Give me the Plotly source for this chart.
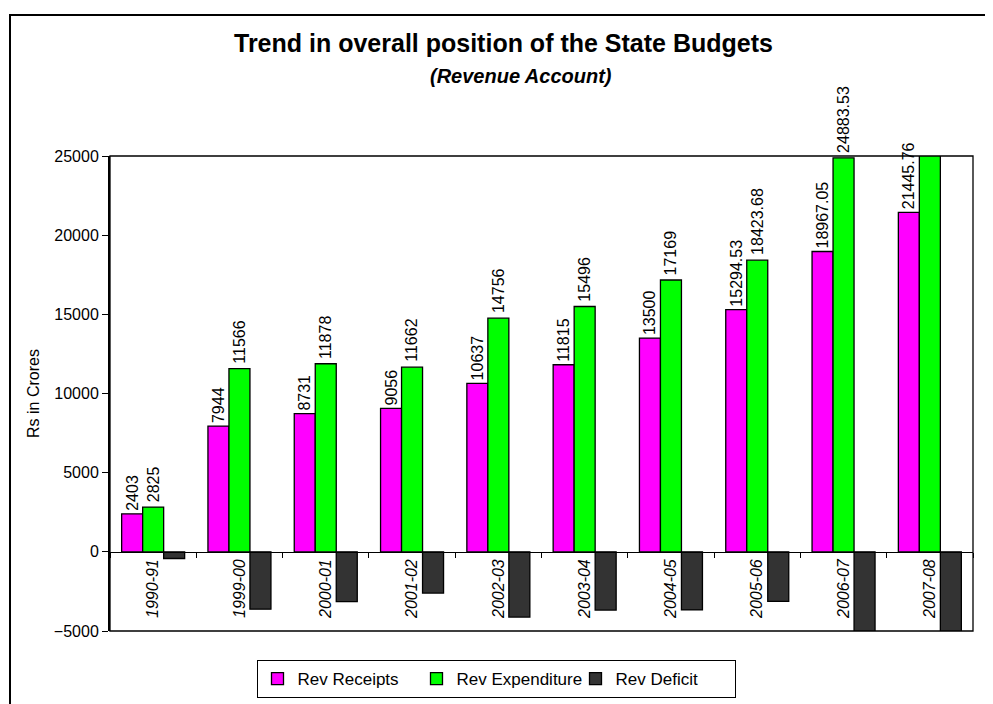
import plotly.graph_objects as go

years = ["1990-91", "1999-00", "2000-01", "2001-02", "2002-03",
         "2003-04", "2004-05", "2005-06", "2006-07", "2007-08"]
rev_receipts = [2403, 7944, 8731, 9056, 10637, 11815, 13500, 15294.53, 18967.05, 21445.76]
rev_expenditure = [2825, 11566, 11878, 11662, 14756, 15496, 17169, 18423.68, 24883.53, 26800]
rev_deficit = [-422, -3622, -3147, -2606, -4119, -3681, -3669, -3129.15, -5916.48, -5354.24]
y_ticks = [-5000, 0, 5000, 10000, 15000, 20000, 25000]
y_min, y_max = -5000, 25000


def fmt(v):
    return ("%.2f" % v).rstrip("0").rstrip(".")


FONT = "Liberation Sans, Arial, sans-serif"
NARROW = "Liberation Sans Narrow, Arial Narrow, Liberation Sans, sans-serif"

# page is offset by the browser's 8px body margin
OFF = 8
PL, PR, PT, PB = 110 - OFF, 973 - OFF, 156 - OFF, 631 - OFF  # plot area in figure px
W, H = 993, 704
PW, PH = PR - PL, PB - PT


def px(xs):
    return (xs - OFF - PL) / PW


def py(ys):
    return (PB - (ys - OFF)) / PH


fig = go.Figure()
fig.add_trace(go.Bar(
    name="Rev Receipts", x=years, y=rev_receipts,
    marker=dict(color="#FF00FF", line=dict(color="black", width=1.3)),
    text=[fmt(v) for v in rev_receipts], textposition="outside", textangle=-90,
    constraintext="none", cliponaxis=False,
    textfont=dict(family=FONT, size=16, color="black"),
))
fig.add_trace(go.Bar(
    name="Rev Expenditure", x=years, y=rev_expenditure,
    marker=dict(color="#00FF00", line=dict(color="black", width=1.3)),
    cliponaxis=True,
))
fig.add_trace(go.Bar(
    name="Rev Deficit", x=years, y=rev_deficit,
    marker=dict(color="#333333", line=dict(color="black", width=1.3)),
    cliponaxis=True,
))

# expenditure labels (middle bar of each group sits on the category centre);
# bars running past the axis top are clipped, so their label is not shown
annotations = [
    dict(text=fmt(v), x=i, y=v, xref="x", yref="y", textangle=-90,
         xanchor="center", yanchor="bottom", yshift=3, showarrow=False,
         font=dict(family=FONT, size=16, color="black"))
    for i, v in enumerate(rev_expenditure) if v <= y_max
]

zero_pos = (0 - y_min) / (y_max - y_min)

annotations += [
    dict(text="<b>Trend in overall position of the State Budgets</b>",
         xref="paper", yref="paper", x=px(503), y=py(43),
         xanchor="center", yanchor="middle", showarrow=False,
         font=dict(family=NARROW, size=25, color="black")),
    dict(text="<b><i>(Revenue Account)</i></b>",
         xref="paper", yref="paper", x=px(521), y=py(76),
         xanchor="center", yanchor="middle", showarrow=False,
         font=dict(family=NARROW, size=20, color="black")),
]

fig.update_layout(
    width=W, height=H,
    margin=dict(l=PL, r=W - PR, t=PT, b=H - PB),
    paper_bgcolor="white", plot_bgcolor="white",
    barmode="group", bargap=0.27, bargroupgap=0,
    font=dict(family=FONT, size=16, color="black"),
    showlegend=True,
    legend=dict(orientation="h", x=px(496), xanchor="center", y=py(660), yanchor="top",
                bordercolor="black", borderwidth=1, bgcolor="white",
                font=dict(family=FONT, size=17, color="black"),
                itemwidth=30, entrywidth=114, entrywidthmode="pixels"),
    xaxis=dict(
        type="category",
        anchor="free", position=zero_pos,
        showline=True, linecolor="black", linewidth=1,
        ticks="outside", tickson="boundaries", ticklen=5, tickcolor="black",
        tickangle=-90,
        tickfont=dict(family=FONT, size=16, color="black", style="italic"),
        showgrid=False, zeroline=False,
    ),
    yaxis=dict(
        range=[y_min, y_max], tickvals=y_ticks, tickformat="d",
        showline=True, linecolor="black", linewidth=2,
        ticks="outside", ticklen=6, tickcolor="black",
        showgrid=False, zeroline=False,
        tickfont=dict(family=FONT, size=16, color="black"),
        title=dict(text="Rs in Crores", font=dict(family=FONT, size=16, color="black"), standoff=10),
    ),
    annotations=annotations,
    shapes=[
        dict(type="rect", xref="x domain", yref="y domain", x0=0, x1=1, y0=0, y1=1,
             line=dict(color="black", width=1.3), layer="above"),
        dict(type="rect", xref="paper", yref="paper",
             x0=px(10), x1=1.2, y0=-0.4, y1=py(15),
             line=dict(color="black", width=2), layer="below"),
    ],
)

fig.write_html("out.html")
